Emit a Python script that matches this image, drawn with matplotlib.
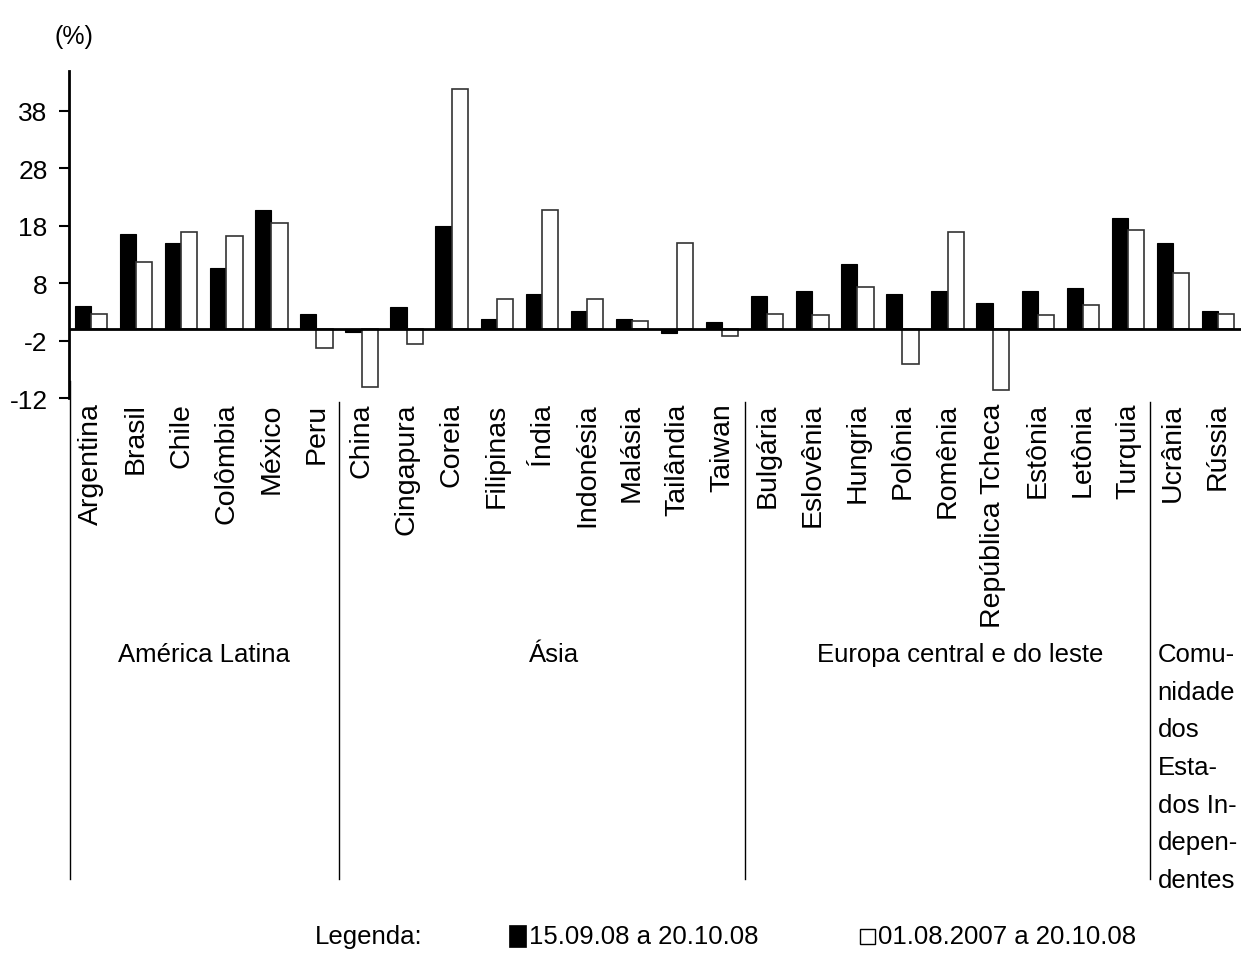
import matplotlib
matplotlib.use('Agg')
import matplotlib.pyplot as plt
import numpy as np
from matplotlib.lines import Line2D
from matplotlib.patches import Rectangle
from matplotlib.transforms import blended_transform_factory

plt.rcParams['font.family'] = ['Liberation Sans', 'DejaVu Sans']

countries = ['Argentina', 'Brasil', 'Chile', 'Colômbia', 'México', 'Peru',
             'China', 'Cingapura', 'Coreia', 'Filipinas', 'Índia', 'Indonésia',
             'Malásia', 'Tailândia', 'Taiwan',
             'Bulgária', 'Eslovênia', 'Hungria', 'Polônia', 'Romênia',
             'República Tcheca', 'Estônia', 'Letônia', 'Turquia',
             'Ucrânia', 'Rússia']
black_vals = [4.1, 16.6, 15.0, 10.7, 20.8, 2.7,
              -0.4, 3.9, 18.0, 1.7, 6.2, 3.1, 1.7, -0.7, 1.3,
              5.8, 6.7, 11.4, 6.2, 6.7, 4.5, 6.7, 7.2, 19.4,
              15.0, 3.1]
white_vals = [2.7, 11.7, 16.9, 16.3, 18.4, -3.2,
              -10.1, -2.5, 41.8, 5.2, 20.8, 5.2, 1.4, 15.0, -1.1,
              2.7, 2.4, 7.3, -6.0, 16.9, -10.5, 2.4, 4.2, 17.3,
              9.8, 2.7]
group_labels = ['América Latina', 'Ásia', 'Europa central e do leste',
                'Comu-\nnidade\ndos\nEsta-\ndos In-\ndepen-\ndentes']
group_sizes = [6, 9, 9, 2]
yticks = [-12, -2, 8, 18, 28, 38]
series_labels = ['15.09.08 a 20.10.08', '01.08.2007 a 20.10.08']

W, H = 1241, 954
fig = plt.figure(figsize=(W / 100, H / 100), dpi=100)
ax_top, ax_bot = 72, 399.3
ax = fig.add_axes([68.5 / W, 1 - ax_bot / H, (1240.6 - 68.5) / W, (ax_bot - ax_top) / H])

x = np.arange(len(countries))
w = 0.36
ax.bar(x - w / 2, black_vals, w, color='black', edgecolor='black', linewidth=0.8)
ax.bar(x + w / 2, white_vals, w, color='white', edgecolor='#333333', linewidth=1.2)
ax.axhline(0, color='black', lw=2, zorder=5)

ax.set_xlim(-0.5, len(countries) - 0.5)
ax.set_ylim(-12, 44.9)
for s in ['top', 'right', 'bottom']:
    ax.spines[s].set_visible(False)
ax.spines['left'].set_linewidth(2)
ax.set_yticks(yticks)
ax.set_yticklabels([str(t) for t in yticks])
ax.tick_params(axis='y', length=7, width=1.5, labelsize=19, pad=8)
ax.set_xticks(x)
ax.set_xticklabels(countries, rotation=90, fontsize=20.5, va='top', ha='center')
ax.tick_params(axis='x', length=0, pad=3)

tr = blended_transform_factory(ax.transData, fig.transFigure)
bounds = np.cumsum([0] + group_sizes)
for i, b in enumerate(bounds[:-1]):
    bx = b - 0.5 + (0.03 if i == 0 else 0)
    y0 = 382 if i == 0 else 403
    fig.add_artist(Line2D([bx, bx], [1 - y0 / H, 1 - 880 / H], transform=tr,
                          color='black', lw=1))

label_shift = [0.0, 0.27, 0.28, 0.0]
for i, lab in enumerate(group_labels):
    s, e = bounds[i], bounds[i + 1]
    if '\n' in lab:
        lines = lab.split('\n')
        for j, ln in enumerate(lines):
            t = fig.text(0, 0, ln, fontsize=18.5, va='center', ha='left', transform=tr)
            t.set_position((s - 0.5 + 0.16, 1 - (655 + j * 37.7) / H))
    else:
        t = fig.text(0, 0, lab, fontsize=18.5, va='center', ha='center', transform=tr)
        t.set_position(((s + e) / 2 - 0.5 + label_shift[i], 1 - 655 / H))

fig.text(74 / W, 1 - 37 / H, '(%)', fontsize=18, ha='center', va='center')

ly = 1 - 937 / H
fig.text(315 / W, ly, 'Legenda:', fontsize=18.5, ha='left', va='center')
fig.add_artist(Rectangle((509 / W, 1 - 948 / H), 17 / W, 22 / H, transform=fig.transFigure,
                         facecolor='black', edgecolor='black', lw=0.5))
fig.text(529 / W, ly, series_labels[0], fontsize=18.5, ha='left', va='center')
fig.add_artist(Rectangle((860 / W, 1 - 945 / H), 15 / W, 15 / H, transform=fig.transFigure,
                         facecolor='white', edgecolor='black', lw=1))
fig.text(878 / W, ly, series_labels[1], fontsize=18.5, ha='left', va='center')

fig.savefig('out.png', dpi=100)
